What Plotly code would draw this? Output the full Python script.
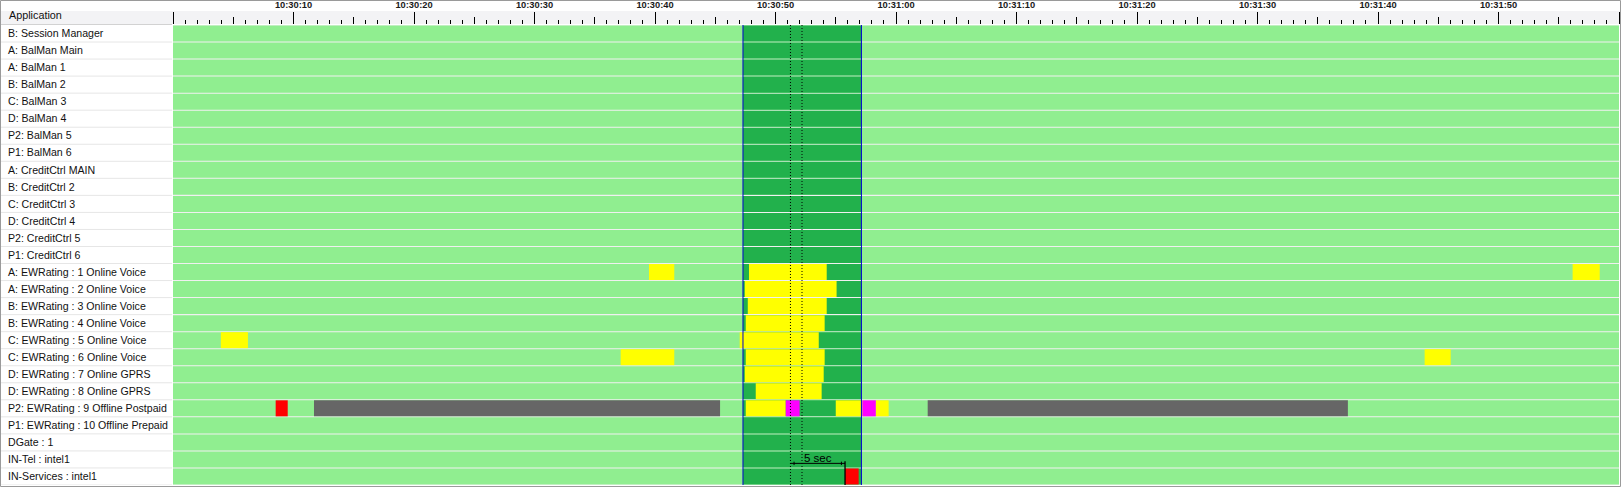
import pandas as pd
import plotly.graph_objects as go

# ---------------- data ----------------
ROWS = [
    "B: Session Manager", "A: BalMan Main", "A: BalMan 1", "B: BalMan 2", "C: BalMan 3",
    "D: BalMan 4", "P2: BalMan 5", "P1: BalMan 6", "A: CreditCtrl MAIN", "B: CreditCtrl 2",
    "C: CreditCtrl 3", "D: CreditCtrl 4", "P2: CreditCtrl 5", "P1: CreditCtrl 6",
    "A: EWRating : 1 Online Voice", "A: EWRating : 2 Online Voice",
    "B: EWRating : 3 Online Voice", "B: EWRating : 4 Online Voice",
    "C: EWRating : 5 Online Voice", "C: EWRating : 6 Online Voice",
    "D: EWRating : 7 Online GPRS", "D: EWRating : 8 Online GPRS",
    "P2: EWRating : 9 Offline Postpaid", "P1: EWRating : 10 Offline Prepaid",
    "DGate : 1", "IN-Tel : intel1", "IN-Services : intel1",
]
HEADER = "Application"
DAY = "2024-01-01"
VIEW_START = "10:30:00"
VIEW_SECONDS = 120          # view spans 10:30:00 .. 10:32:00

# seconds after 10:30:00
ACTIVE_WINDOW = (47.3, 57.13)       # dark-green band on every row
CURSORS = [51.24, 52.2]             # dotted cursor lines
MEASURE = (51.24, 55.77)            # "5 sec" measurement
MEASURE_LABEL = "5 sec"

# (row index, start s, end s)
YELLOW = [
    (14, 39.5, 41.6), (14, 47.8, 54.25), (14, 116.15, 118.4),
    (15, 47.45, 55.07),
    (16, 47.7, 54.25),
    (17, 47.53, 54.08),
    (18, 3.97, 6.22), (18, 47.03, 53.59),
    (19, 37.15, 41.6), (19, 47.53, 54.08), (19, 103.87, 106.03),
    (20, 47.45, 54.0),
    (21, 48.36, 53.83),
    (22, 47.53, 50.85), (22, 55.0, 57.21), (22, 58.32, 59.39),
]
MAGENTA = [(22, 50.85, 52.0), (22, 57.21, 58.32)]
RED = [(22, 8.52, 9.52), (26, 55.77, 56.9)]
GRAY = [(22, 11.7, 45.4), (22, 62.63, 97.5)]

COLORS = {
    "idle": "#90EE90", "active": "#22B14C", "yellow": "#FFFF00",
    "magenta": "#FF00FF", "red": "#FF0000", "gray": "#666666",
}

# ---------------- helpers ----------------
T0 = pd.Timestamp(f"{DAY} {VIEW_START}")


def ts(sec):
    return T0 + pd.Timedelta(seconds=sec)


def bar(segs, color):
    return go.Bar(
        orientation="h",
        y=[ROWS[r] for r, _, _ in segs],
        base=[ts(s) for _, s, _ in segs],
        x=[(e - s) * 1000.0 for _, s, e in segs],
        marker=dict(color=color, line=dict(width=0)),
        width=0.94,
        hoverinfo="skip",
        showlegend=False,
    )


W, H = 1621, 487
ML, MR, MT, MB = 0, 2, 25, 2
PW, PH = W - ML - MR, H - MT - MB
LABEL_COL = 173  # px width of the label column


def px_x(p):
    return (p - ML) / PW


def px_y(p):
    return 1 - (p - MT) / PH


fig = go.Figure()
fig.add_trace(bar([(i, 0, VIEW_SECONDS) for i in range(len(ROWS))], COLORS["idle"]))
fig.add_trace(bar([(i, ACTIVE_WINDOW[0], ACTIVE_WINDOW[1]) for i in range(len(ROWS))], COLORS["active"]))
fig.add_trace(bar(GRAY, COLORS["gray"]))
fig.add_trace(bar(YELLOW, COLORS["yellow"]))
fig.add_trace(bar(RED, COLORS["red"]))
fig.add_trace(bar(MAGENTA, COLORS["magenta"]))
# helper invisible trace so the secondary tick axis renders
fig.add_trace(go.Scatter(x=[ts(0)], y=[ROWS[0]], xaxis="x2", mode="markers",
                         marker=dict(opacity=0), hoverinfo="skip", showlegend=False))

shapes = []
# header band
shapes.append(dict(type="rect", xref="paper", yref="paper", x0=px_x(0), x1=px_x(W),
                   y0=px_y(24), y1=px_y(11), fillcolor="#F3F3F5", line=dict(width=0), layer="below"))
shapes.append(dict(type="line", xref="paper", yref="paper", x0=px_x(0), x1=px_x(LABEL_COL - 1),
                   y0=px_y(24.5), y1=px_y(24.5), line=dict(color="#D2D2D2", width=1)))
# label column row separators
for i in range(len(ROWS)):
    shapes.append(dict(type="line", xref="paper", yref="y", x0=px_x(0), x1=px_x(LABEL_COL - 1),
                       y0=i + 0.5, y1=i + 0.5, line=dict(color="#E6E6E6", width=1)))
# active window edges
for s in ACTIVE_WINDOW:
    shapes.append(dict(type="line", xref="x", yref="paper", x0=ts(s), x1=ts(s), y0=0, y1=1,
                       line=dict(color="#0000D0", width=1)))
# cursors
for s in CURSORS:
    shapes.append(dict(type="line", xref="x", yref="paper", x0=ts(s), x1=ts(s), y0=0, y1=1,
                       line=dict(color="#000000", width=1, dash="1px,2px")))
# measurement
m_row = 25
shapes.append(dict(type="line", xref="x", yref="y", x0=ts(MEASURE[0]), x1=ts(MEASURE[1]),
                   y0=m_row + 0.23, y1=m_row + 0.23, line=dict(color="#000000", width=1)))
shapes.append(dict(type="line", xref="x", yref="y", x0=ts(MEASURE[0] + 0.3), x1=ts(MEASURE[0] + 0.3),
                   y0=m_row + 0.13, y1=m_row + 0.33, line=dict(color="#000000", width=1)))
shapes.append(dict(type="line", xref="x", yref="y", x0=ts(MEASURE[1] - 0.3), x1=ts(MEASURE[1] - 0.3),
                   y0=m_row + 0.13, y1=m_row + 0.33, line=dict(color="#000000", width=1)))
shapes.append(dict(type="line", xref="x", yref="y", x0=ts(MEASURE[1]), x1=ts(MEASURE[1]),
                   y0=m_row + 0.1, y1=len(ROWS) - 0.5, line=dict(color="#000000", width=1.3)))
# outer frame
shapes.append(dict(type="rect", xref="paper", yref="paper", x0=px_x(0.5), x1=px_x(W - 0.5),
                   y0=px_y(H - 0.5), y1=px_y(0.5), line=dict(color="#9A9A9A", width=1)))

annotations = [
    dict(text=HEADER, xref="paper", yref="paper", x=px_x(7), y=px_y(15), xanchor="left",
         yanchor="middle", showarrow=False, font=dict(family="Liberation Sans", size=10.8, color="#111111")),
    dict(text=MEASURE_LABEL, xref="x", yref="y", x=ts((MEASURE[0] + MEASURE[1]) / 2 + 0.0),
         y=m_row - 0.06, xanchor="center", yanchor="middle", showarrow=False,
         font=dict(family="Liberation Sans", size=11.5, color="#000000")),
]

fig.update_layout(
    width=W, height=H,
    margin=dict(l=ML, r=MR, t=MT, b=MB, pad=0),
    paper_bgcolor="#FFFFFF",
    plot_bgcolor="#F0F0F0",
    barmode="overlay",
    shapes=shapes,
    annotations=annotations,
    xaxis=dict(
        type="date", domain=[px_x(LABEL_COL), 1], range=[ts(0), ts(VIEW_SECONDS)],
        side="top", anchor="y", tickformat="%H:%M:%S", dtick=10000, tick0=ts(0),
        ticks="outside", ticklen=12, tickwidth=1, tickcolor="#000000",
        tickfont=dict(family="Liberation Sans", size=9.3, color="#1A1A1A", weight="bold"),
        ticklabeloverflow="hide past domain",
        showgrid=False, zeroline=False, showline=False, fixedrange=True,
    ),
    xaxis2=dict(
        type="date", overlaying="x", matches="x", side="top", anchor="y",
        range=[ts(0), ts(VIEW_SECONDS)], dtick=5000, tick0=ts(0),
        ticks="outside", ticklen=7, tickwidth=1, tickcolor="#000000", showticklabels=False,
        minor=dict(dtick=1000, tick0=ts(0), ticks="outside", ticklen=4, tickwidth=1,
                   tickcolor="#000000", showgrid=False),
        showgrid=False, zeroline=False, showline=False,
    ),
    yaxis=dict(
        type="category", categoryorder="array", categoryarray=ROWS,
        range=[len(ROWS) - 0.5, -0.5], anchor="free", position=0, side="right",
        ticks="", showgrid=False, zeroline=False, showline=False, ticklabelstandoff=7,
        tickfont=dict(family="Liberation Sans", size=10.6, color="#111111"),
    ),
)

fig.write_html(
    "out.html",
    config={"displayModeBar": False, "staticPlot": True},
    post_script="document.body.style.margin='0px';document.body.style.overflow='hidden';",
)
